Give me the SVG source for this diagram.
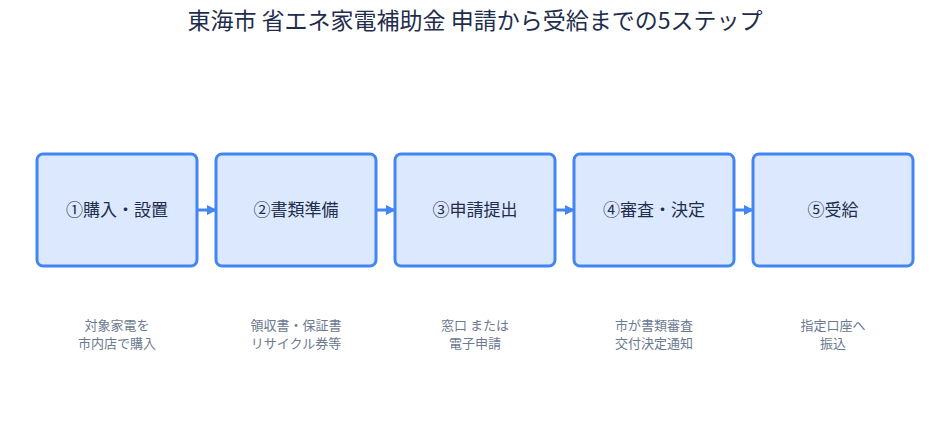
<svg xmlns="http://www.w3.org/2000/svg" width="950" height="432" viewBox="0 0 950 432">
<style>
text{font-family:"Noto Sans CJK JP","Noto Sans",sans-serif}
.box{fill:#dbe8fd;stroke:#4286f4;stroke-width:3}
.lb{font-size:17px;fill:#1f2d4d;text-anchor:middle}
.sub{font-size:13px;fill:#6b7a90;text-anchor:middle}
.c{stroke:#4286f4;stroke-width:3;fill:none;marker-end:url(#a)}
</style>
<defs><marker id="a" markerWidth="10" markerHeight="10" refX="9" refY="5" orient="auto" markerUnits="userSpaceOnUse"><path d="M0,0L10,5L0,10z" fill="#4286f4"/></marker></defs>
<rect width="950" height="432" fill="#fff"/>
<text x="475" y="29" font-size="23" fill="#1f2d4d" text-anchor="middle">東海市 省エネ家電補助金 申請から受給までの5ステップ</text>
<g id="connectors">
<line class="c" x1="197" y1="210" x2="216" y2="210"/>
<line class="c" x1="376" y1="210" x2="395" y2="210"/>
<line class="c" x1="555" y1="210" x2="574" y2="210"/>
<line class="c" x1="734" y1="210" x2="753" y2="210"/>
</g>
<g id="n1"><rect class="box" x="37" y="154" width="160" height="112" rx="6"/><text class="lb" x="117" y="216">①購入・設置</text><text class="sub" x="117" y="330">対象家電を</text><text class="sub" x="117" y="348">市内店で購入</text></g>
<g id="n2"><rect class="box" x="216" y="154" width="160" height="112" rx="6"/><text class="lb" x="296" y="216">②書類準備</text><text class="sub" x="296" y="330">領収書・保証書</text><text class="sub" x="296" y="348">リサイクル券等</text></g>
<g id="n3"><rect class="box" x="395" y="154" width="160" height="112" rx="6"/><text class="lb" x="475" y="216">③申請提出</text><text class="sub" x="475" y="330">窓口 または</text><text class="sub" x="475" y="348">電子申請</text></g>
<g id="n4"><rect class="box" x="574" y="154" width="160" height="112" rx="6"/><text class="lb" x="654" y="216">④審査・決定</text><text class="sub" x="654" y="330">市が書類審査</text><text class="sub" x="654" y="348">交付決定通知</text></g>
<g id="n5"><rect class="box" x="753" y="154" width="160" height="112" rx="6"/><text class="lb" x="833" y="216">⑤受給</text><text class="sub" x="833" y="330">指定口座へ</text><text class="sub" x="833" y="348">振込</text></g>
</svg>
